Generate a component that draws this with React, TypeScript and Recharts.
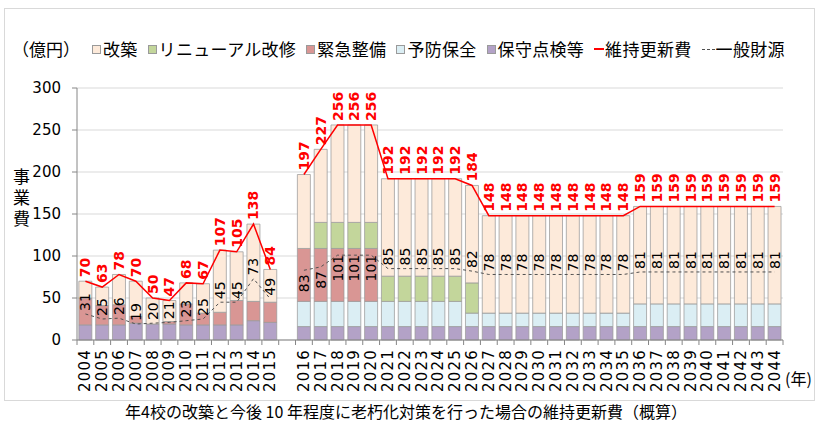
import React from 'react';
import { ComposedChart, Bar, Line, XAxis, YAxis, CartesianGrid, LabelList } from 'recharts';

// categories: 2004-2015, a blank gap, then 2016-2044
const years = [
  '2004', '2005', '2006', '2007', '2008', '2009', '2010', '2011', '2012', '2013', '2014', '2015',
  '',
  '2016', '2017', '2018', '2019', '2020', '2021', '2022', '2023', '2024', '2025', '2026',
  '2027', '2028', '2029', '2030', '2031', '2032', '2033', '2034', '2035',
  '2036', '2037', '2038', '2039', '2040', '2041', '2042', '2043', '2044',
];

// 保守点検等
const hoshu = [
  18, 18, 18, 20, 19, 19, 18, 18, 18, 18, 23, 21,
  null,
  16, 16, 16, 16, 16, 16, 16, 16, 16, 16, 16,
  16, 16, 16, 16, 16, 16, 16, 16, 16,
  16, 16, 16, 16, 16, 16, 16, 16, 16,
];
// 予防保全
const yobo = [
  0, 0, 0, 0, 0, 0, 0, 0, 0, 0, 0, 0,
  null,
  30, 30, 30, 30, 30, 30, 30, 30, 30, 30, 16,
  16, 16, 16, 16, 16, 16, 16, 16, 16,
  27, 27, 27, 27, 27, 27, 27, 27, 27,
];
// 緊急整備
const kinkyu = [
  32, 23, 24, 8, 0, 3, 25, 14, 15, 29, 23, 24,
  null,
  63, 63, 63, 63, 63, 0, 0, 0, 0, 0, 0,
  0, 0, 0, 0, 0, 0, 0, 0, 0,
  0, 0, 0, 0, 0, 0, 0, 0, 0,
];
// リニューアル改修
const renewal = [
  0, 0, 0, 0, 0, 0, 0, 0, 0, 0, 0, 0,
  null,
  0, 31, 31, 31, 31, 30, 30, 30, 30, 30, 36,
  0, 0, 0, 0, 0, 0, 0, 0, 0,
  0, 0, 0, 0, 0, 0, 0, 0, 0,
];
// 改築
const kaichiku = [
  20, 22, 36, 42, 31, 25, 25, 35, 74, 58, 92, 39,
  null,
  88, 87, 116, 116, 116, 116, 116, 116, 116, 116, 116,
  116, 116, 116, 116, 116, 116, 116, 116, 116,
  116, 116, 116, 116, 116, 116, 116, 116, 116,
];
// 維持更新費
const totals = [
  70, 63, 78, 70, 50, 47, 68, 67, 107, 105, 138, 84,
  null,
  197, 227, 256, 256, 256, 192, 192, 192, 192, 192, 184,
  148, 148, 148, 148, 148, 148, 148, 148, 148,
  159, 159, 159, 159, 159, 159, 159, 159, 159,
];
// 一般財源
const general = [
  31, 25, 26, 19, 20, 21, 23, 25, 45, 45, 73, 49,
  null,
  83, 87, 101, 101, 101, 85, 85, 85, 85, 85, 82,
  78, 78, 78, 78, 78, 78, 78, 78, 78,
  81, 81, 81, 81, 81, 81, 81, 81, 81,
];

const yTicks = [0, 50, 100, 150, 200, 250, 300];

const data = years.map((year, i) => ({
  year,
  hoshu: hoshu[i],
  yobo: yobo[i],
  kinkyu: kinkyu[i],
  renewal: renewal[i],
  kaichiku: kaichiku[i],
  total: totals[i],
  general: general[i],
}));

const W = 818;
const H = 425;
const PLOT_LEFT = 77;
const PLOT_RIGHT = 783;
const HALF_BAND = (PLOT_RIGHT - PLOT_LEFT) / years.length / 2;

const C = {
  kaichiku: '#FDEADA',
  renewal: '#C3D69B',
  kinkyu: '#D99694',
  yobo: '#DBEEF4',
  hoshu: '#B3A2C7',
  total: '#FF0000',
  general: '#505050',
  barStroke: '#9a9a9a',
  axis: '#868686',
  grid: '#d9d9d9',
};

const XTick = (props: any) => {
  const { x, y, payload, index } = props;
  return (
    <g>
      <line x1={x - HALF_BAND} y1={y} x2={x - HALF_BAND} y2={y + 5} stroke={C.axis} />
      {index === years.length - 1 && (
        <line x1={x + HALF_BAND} y1={y} x2={x + HALF_BAND} y2={y + 5} stroke={C.axis} />
      )}
      <text
        x={x}
        y={y + 9}
        transform={`rotate(-90, ${x}, ${y + 9})`}
        textAnchor="end"
        dominantBaseline="central"
        fontFamily="DejaVu Sans"
        fontSize={15}
        letterSpacing={1.2}
        fill="#000"
      >
        {payload.value}
      </text>
    </g>
  );
};

const TotalLabel = (props: any) => {
  const { x, y, value } = props;
  if (value == null) return null;
  const ty = y - 4;
  return (
    <text
      x={x}
      y={ty}
      transform={`rotate(-90, ${x}, ${ty})`}
      textAnchor="start"
      dominantBaseline="central"
      fontFamily="DejaVu Sans"
      fontWeight="bold"
      fontSize={14}
      fill={C.total}
    >
      {value}
    </text>
  );
};

const GeneralLabel = (props: any) => {
  const { x, y, value, index } = props;
  if (value == null) return null;
  // 2016-2020 labels sit under the line, others above
  const below = index >= 13 && index <= 17;
  const ty = below ? y + 13 : y - 12;
  return (
    <text
      x={x}
      y={ty}
      transform={`rotate(-90, ${x}, ${ty})`}
      textAnchor="middle"
      dominantBaseline="central"
      fontFamily="DejaVu Sans"
      fontSize={14}
      fill="#000"
    >
      {value}
    </text>
  );
};

const legendItems = [
  { label: '改築', color: C.kaichiku, type: 'box' },
  { label: 'リニューアル改修', color: C.renewal, type: 'box' },
  { label: '緊急整備', color: C.kinkyu, type: 'box' },
  { label: '予防保全', color: C.yobo, type: 'box' },
  { label: '保守点検等', color: C.hoshu, type: 'box' },
  { label: '維持更新費', color: C.total, type: 'line' },
  { label: '一般財源', color: C.general, type: 'dash' },
];

const Legend = () => (
  <div
    style={{
      position: 'absolute',
      left: 12,
      top: 39,
      display: 'flex',
      alignItems: 'center',
      fontSize: 17,
      lineHeight: '20px',
      color: '#000',
      whiteSpace: 'nowrap',
    }}
  >
    <span style={{ marginRight: 12 }}>（億円）</span>
    {legendItems.map((it) => (
      <span key={it.label} style={{ display: 'flex', alignItems: 'center', marginRight: 10 }}>
        {it.type === 'box' && (
          <span
            style={{
              display: 'inline-block',
              width: 7,
              height: 7,
              background: it.color,
              border: '1px solid #9a9a9a',
              marginRight: 2,
            }}
          />
        )}
        {it.type === 'line' && (
          <span style={{ display: 'inline-block', width: 10, height: 2, background: it.color, marginRight: 1 }} />
        )}
        {it.type === 'dash' && (
          <span
            style={{ display: 'inline-block', width: 13, borderTop: `1px dashed ${it.color}`, marginRight: 1 }}
          />
        )}
        <span style={{ letterSpacing: 0.3 }}>{it.label}</span>
      </span>
    ))}
  </div>
);

export default function App() {
  return (
    <div
      style={{
        position: 'absolute',
        left: 0,
        top: 0,
        width: W,
        height: H,
        background: '#fff',
        fontFamily: '"Noto Sans CJK JP", sans-serif',
        overflow: 'hidden',
      }}
    >
      <div
        style={{
          position: 'absolute',
          left: 4,
          top: 8,
          width: 809,
          height: 391,
          border: '1px solid #d9d9d9',
        }}
      />
      <Legend />
      <div
        style={{
          position: 'absolute',
          left: 9,
          top: 168,
          writingMode: 'vertical-rl',
          fontSize: 17,
          letterSpacing: 4,
          color: '#000',
        }}
      >
        事業費
      </div>
      <div style={{ position: 'absolute', left: 785, top: 366, fontSize: 16, color: '#000' }}>(年)</div>
      <div
        style={{
          position: 'absolute',
          left: 0,
          top: 399,
          width: 812,
          textAlign: 'center',
          fontSize: 16,
          color: '#000',
        }}
      >
        年4校の改築と今後 10 年程度に老朽化対策を行った場合の維持更新費（概算）
      </div>
      <div style={{ position: 'absolute', left: 0, top: 0 }}>
        <ComposedChart
          width={W}
          height={H}
          data={data}
          margin={{ top: 88, right: W - PLOT_RIGHT, bottom: 30, left: 17 }}
          barCategoryGap="11%"
        >
          <CartesianGrid vertical={false} stroke={C.grid} />
          <XAxis
            dataKey="year"
            interval={0}
            height={55}
            tickSize={0}
            tickMargin={0}
            tickLine={false}
            axisLine={{ stroke: C.axis }}
            tick={<XTick />}
          />
          <YAxis
            width={60}
            domain={[0, 300]}
            ticks={yTicks}
            interval={0}
            tickSize={5}
            tickMargin={11}
            axisLine={{ stroke: C.axis }}
            tickLine={{ stroke: C.axis }}
            tick={{ fill: '#000', fontSize: 15, fontFamily: 'DejaVu Sans' }}
          />
          <Bar dataKey="hoshu" stackId="s" fill={C.hoshu} stroke={C.barStroke} strokeWidth={0.75} isAnimationActive={false} />
          <Bar dataKey="yobo" stackId="s" fill={C.yobo} stroke={C.barStroke} strokeWidth={0.75} isAnimationActive={false} />
          <Bar dataKey="kinkyu" stackId="s" fill={C.kinkyu} stroke={C.barStroke} strokeWidth={0.75} isAnimationActive={false} />
          <Bar dataKey="renewal" stackId="s" fill={C.renewal} stroke={C.barStroke} strokeWidth={0.75} isAnimationActive={false} />
          <Bar dataKey="kaichiku" stackId="s" fill={C.kaichiku} stroke={C.barStroke} strokeWidth={0.75} isAnimationActive={false} />
          <Line
            dataKey="general"
            stroke={C.general}
            strokeWidth={1}
            strokeDasharray="3 3"
            dot={false}
            activeDot={false}
            isAnimationActive={false}
          >
            <LabelList dataKey="general" content={<GeneralLabel />} />
          </Line>
          <Line
            dataKey="total"
            stroke={C.total}
            strokeWidth={1.5}
            dot={false}
            activeDot={false}
            isAnimationActive={false}
          >
            <LabelList dataKey="total" content={<TotalLabel />} />
          </Line>
        </ComposedChart>
      </div>
    </div>
  );
}
